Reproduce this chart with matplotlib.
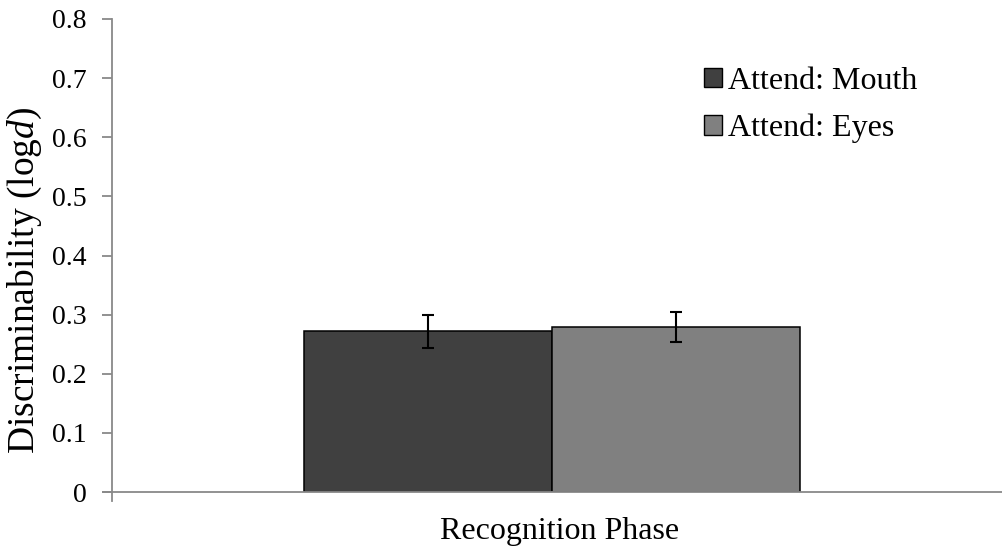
import matplotlib
matplotlib.use("Agg")
import matplotlib.pyplot as plt
from matplotlib.patches import Patch

plt.rcParams['font.family'] = ['Liberation Serif', 'DejaVu Serif']
plt.rcParams['mathtext.fontset'] = 'custom'
plt.rcParams['mathtext.it'] = 'Liberation Serif:italic'
plt.rcParams['mathtext.rm'] = 'Liberation Serif'

conditions = ['Attend: Mouth', 'Attend: Eyes']
means = [0.272, 0.279]
errors = [0.028, 0.026]
colors = ['#404040', '#808080']
category = 'Recognition Phase'
yticks = [0, 0.1, 0.2, 0.3, 0.4, 0.5, 0.6, 0.7, 0.8]

FS = 23
W, H = 1003, 548
fig = plt.figure(figsize=(W / 100, H / 100), dpi=100)
ax = fig.add_axes([112 / W, 1 - 492 / H, (W - 112) / W, (492 - 19) / H])

offsets = [-0.5, 0.5]
for off, m, e, c in zip(offsets, means, errors, colors):
    ax.bar(off, m, width=1.0, color=c, edgecolor='black', linewidth=1.1, zorder=2)
    ax.errorbar(off, m, yerr=e, fmt='none', ecolor='black', elinewidth=1.5,
                capsize=4, capthick=1.5, zorder=3)

x0, x1 = -1.771, 1.815
ax.set_xlim(x0, x1)
ax.set_ylim(0, 0.8)
ax.set_yticks(yticks)
ax.set_yticklabels(['0' if v == 0 else f'{v:.1f}' for v in yticks])
ax.set_xticks([])
ax.text(0.032, -0.053, category, ha='center', va='top', fontsize=FS,
        transform=ax.get_xaxis_transform())

for side in ['top', 'right']:
    ax.spines[side].set_visible(False)
for side in ['left', 'bottom']:
    ax.spines[side].set_color('#898989')
    ax.spines[side].set_linewidth(1.3)
    ax.spines[side].set_zorder(4)
ax.spines['bottom'].set_bounds(x0 - 9 / 248.5, x1)
ax.tick_params(axis='y', direction='out', length=7.2, width=1.3, color='#898989',
               labelsize=20, pad=11)
# small tick below the axis origin
ax.plot([x0, x0], [0, -0.016], color='#898989', lw=1.3, clip_on=False)

fig.text(25 / W, 1 - 280 / H, r'Discriminability (log$\it{d}$)', fontsize=27,
         rotation=90, ha='center', va='center')

handles = [Patch(facecolor=c, edgecolor='black', linewidth=1) for c in colors]
ax.legend(handles, conditions, loc='upper left',
          bbox_to_anchor=((704 - 112) / 891, (492 - 67) / 473),
          frameon=False, fontsize=FS, handlelength=0.56, handleheight=0.56,
          handletextpad=0.19, labelspacing=0.56, borderaxespad=0, borderpad=0)

fig.savefig('out.png', dpi=100)
